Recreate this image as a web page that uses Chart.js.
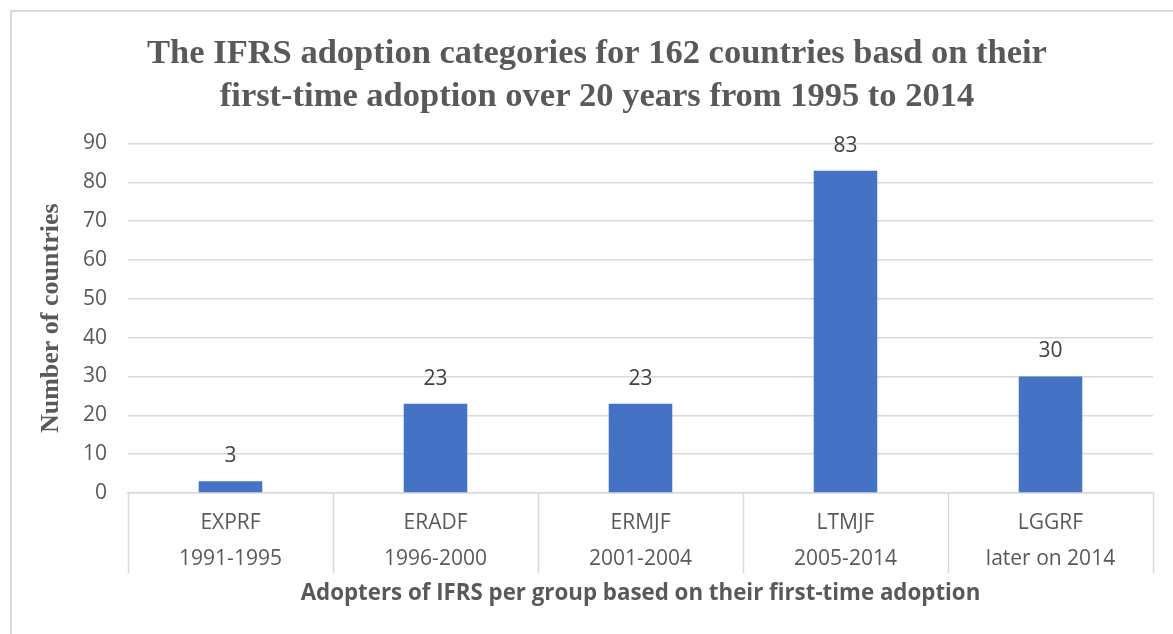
<!DOCTYPE html>
<html>
<head>
<meta charset="utf-8">
<script src="https://cdn.jsdelivr.net/npm/chart.js@4.4.1/dist/chart.umd.min.js"></script>
<style>
  html, body { margin: 0; padding: 0; background: #ffffff; }
  #wrap { width: 1173px; height: 634px; position: relative; }
</style>
</head>
<body>
<div id="wrap"><canvas id="c" width="1173" height="634"></canvas></div>
<script>
const groupCodes = ["EXPRF", "ERADF", "ERMJF", "LTMJF", "LGGRF"];
const groupPeriods = ["1991-1995", "1996-2000", "2001-2004", "2005-2014", "later on 2014"];
const countryCounts = [3, 23, 23, 83, 30];
const yTickMax = 90;
const yTickStep = 10;

const chartTitle = ["The IFRS adoption categories for 162 countries basd on their",
                    "first-time adoption over 20 years from 1995 to 2014"];
const xTitle = "Adopters of IFRS per group based on their first-time adoption";
const yTitle = "Number of countries";

const labels = groupCodes.map((c, i) => [c, groupPeriods[i]]);

const SANS = "'Open Sans', 'Liberation Sans', sans-serif";
const SERIF = "'Liberation Serif', 'Times New Roman', serif";
const GRID = '#d9d9d9';
const TEXT = '#595959';

const framePlugin = {
  id: 'frame',
  beforeDraw(chart) {
    const ctx = chart.ctx;
    ctx.save();
    ctx.fillStyle = '#ffffff';
    ctx.fillRect(0, 0, chart.width, chart.height);
    ctx.strokeStyle = GRID;
    ctx.lineWidth = 2;
    ctx.beginPath();
    ctx.moveTo(10, 11);
    ctx.lineTo(chart.width, 11);
    ctx.moveTo(11, 10);
    ctx.lineTo(11, chart.height);
    ctx.stroke();
    // chart title
    ctx.font = "bold 34.5px " + SERIF;
    ctx.fillStyle = TEXT;
    ctx.textAlign = 'center';
    ctx.textBaseline = 'middle';
    const cx = 597;
    chartTitle.forEach((line, i) => {
      ctx.fillText(line, cx, 54 + i * 43);
    });
    ctx.restore();
  }
};

const separatorPlugin = {
  id: 'separators',
  afterDraw(chart) {
    const x = chart.scales.x;
    const ctx = chart.ctx;
    const n = labels.length;
    const step = (x.right - x.left) / n;
    ctx.save();
    ctx.strokeStyle = GRID;
    ctx.lineWidth = 1.5;
    ctx.beginPath();
    for (let i = 0; i <= n; i++) {
      const px = Math.round(x.left + i * step) + 0.5;
      ctx.moveTo(px, x.top);
      ctx.lineTo(px, x.top + 80);
    }
    ctx.stroke();
    ctx.restore();
  }
};

const valueLabelPlugin = {
  id: 'valueLabels',
  afterDatasetsDraw(chart) {
    const ctx = chart.ctx;
    const meta = chart.getDatasetMeta(0);
    ctx.save();
    ctx.font = "21px " + SANS;
    ctx.fillStyle = '#404040';
    ctx.textAlign = 'center';
    ctx.textBaseline = 'middle';
    meta.data.forEach((bar, i) => {
      ctx.fillText(String(countryCounts[i]), bar.x, bar.y - 25);
    });
    ctx.restore();
  }
};

new Chart(document.getElementById('c'), {
  type: 'bar',
  data: {
    labels: labels,
    datasets: [{
      data: countryCounts,
      backgroundColor: '#4472C4',
      borderWidth: 0,
      barPercentage: 0.31,
      categoryPercentage: 1.0
    }]
  },
  options: {
    responsive: false,
    devicePixelRatio: 1,
    animation: false,
    layout: { padding: { left: 0, right: 20, top: 143.5, bottom: 0 } },
    plugins: {
      legend: { display: false },
      tooltip: { enabled: false },
      title: { display: false }
    },
    scales: {
      x: {
        grid: { display: false, drawTicks: false },
        border: { display: true, color: GRID, width: 1.5 },
        ticks: {
          color: TEXT,
          font: { family: SANS, size: 21, lineHeight: 1.7 },
          padding: 12,
          maxRotation: 0,
          autoSkip: false
        },
        title: {
          display: true,
          text: xTitle,
          color: TEXT,
          font: { family: SANS, size: 22.3, weight: 'bold', lineHeight: 1.2 },
          padding: { top: 2, bottom: 27 }
        },
        afterFit(scale) { scale.height = 141; }
      },
      y: {
        min: 0,
        max: yTickMax,
        grid: { color: GRID, lineWidth: 1.5, drawTicks: false },
        border: { display: false },
        ticks: {
          stepSize: yTickStep,
          color: TEXT,
          font: { family: SANS, size: 21 },
          padding: 21
        },
        title: {
          display: true,
          text: yTitle,
          color: TEXT,
          font: { family: SERIF, size: 26, weight: 'bold', lineHeight: 1.2 },
          padding: { top: 36, bottom: 0 }
        },
        afterFit(scale) { scale.width = 128; }
      }
    }
  },
  plugins: [framePlugin, separatorPlugin, valueLabelPlugin]
});
</script>
</body>
</html>
